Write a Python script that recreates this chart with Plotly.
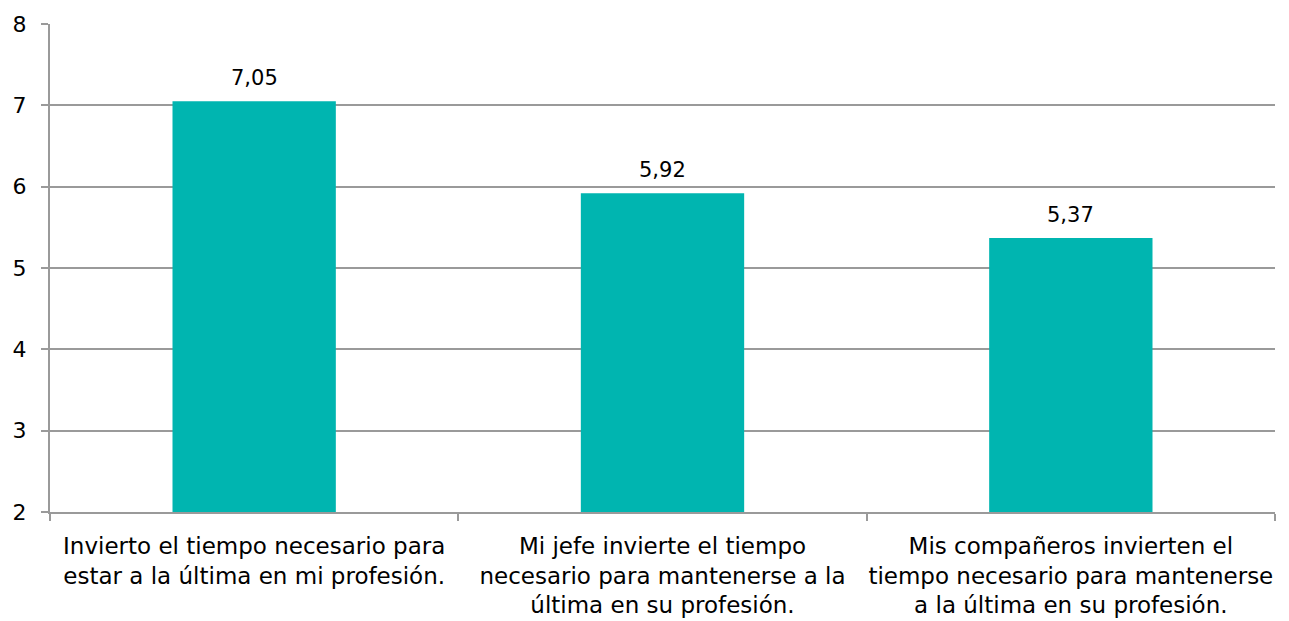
import plotly.graph_objects as go

categories = [
    "Invierto el tiempo necesario para<br>estar a la última en mi profesión.",
    "Mi jefe invierte el tiempo<br>necesario para mantenerse a la<br>última en su profesión.",
    "Mis compañeros invierten el<br>tiempo necesario para mantenerse<br>a la última en su profesión.",
]
values = [7.05, 5.92, 5.37]
y_ticks = [2, 3, 4, 5, 6, 7, 8]

BAR_COLOR = "#00B5B0"
GRID_COLOR = "#9a9a9a"
FONT = "'DejaVu Sans', sans-serif"

fig = go.Figure(
    go.Bar(
        x=categories,
        y=values,
        marker=dict(color=BAR_COLOR, line=dict(width=0)),
        width=0.4,
        hoverinfo="skip",
    )
)

# value labels above each bar
for cat, val in zip(categories, values):
    fig.add_annotation(
        x=cat, y=val, text=f"{val:.2f}".replace(".", ","),
        showarrow=False, yanchor="bottom", yshift=9,
        font=dict(family=FONT, size=21, color="#000000"),
    )

fig.update_layout(
    width=1289, height=621,
    margin=dict(l=50, r=14, t=24, b=109),
    paper_bgcolor="white", plot_bgcolor="white",
    font=dict(family=FONT, size=21, color="#000000"),
    showlegend=False,
    bargap=0.6,
)

fig.update_xaxes(
    type="category",
    showline=True, linecolor=GRID_COLOR, linewidth=2,
    ticks="outside", tickson="boundaries", ticklen=7,
    tickcolor=GRID_COLOR, tickwidth=2,
    ticklabelstandoff=12, tickangle=0, automargin=False,
    tickfont=dict(family=FONT, size=23, color="#000000"),
    showgrid=False,
)
fig.update_yaxes(
    range=[2, 8], tickvals=y_ticks, ticktext=[str(t) for t in y_ticks],
    showgrid=True, gridcolor=GRID_COLOR, gridwidth=2,
    showline=True, linecolor=GRID_COLOR, linewidth=2,
    ticks="outside", ticklen=7, tickcolor=GRID_COLOR, tickwidth=2,
    ticklabelstandoff=10, automargin=False,
    tickfont=dict(family=FONT, size=22, color="#000000"),
    zeroline=False,
)

fig.write_html("out.html")
